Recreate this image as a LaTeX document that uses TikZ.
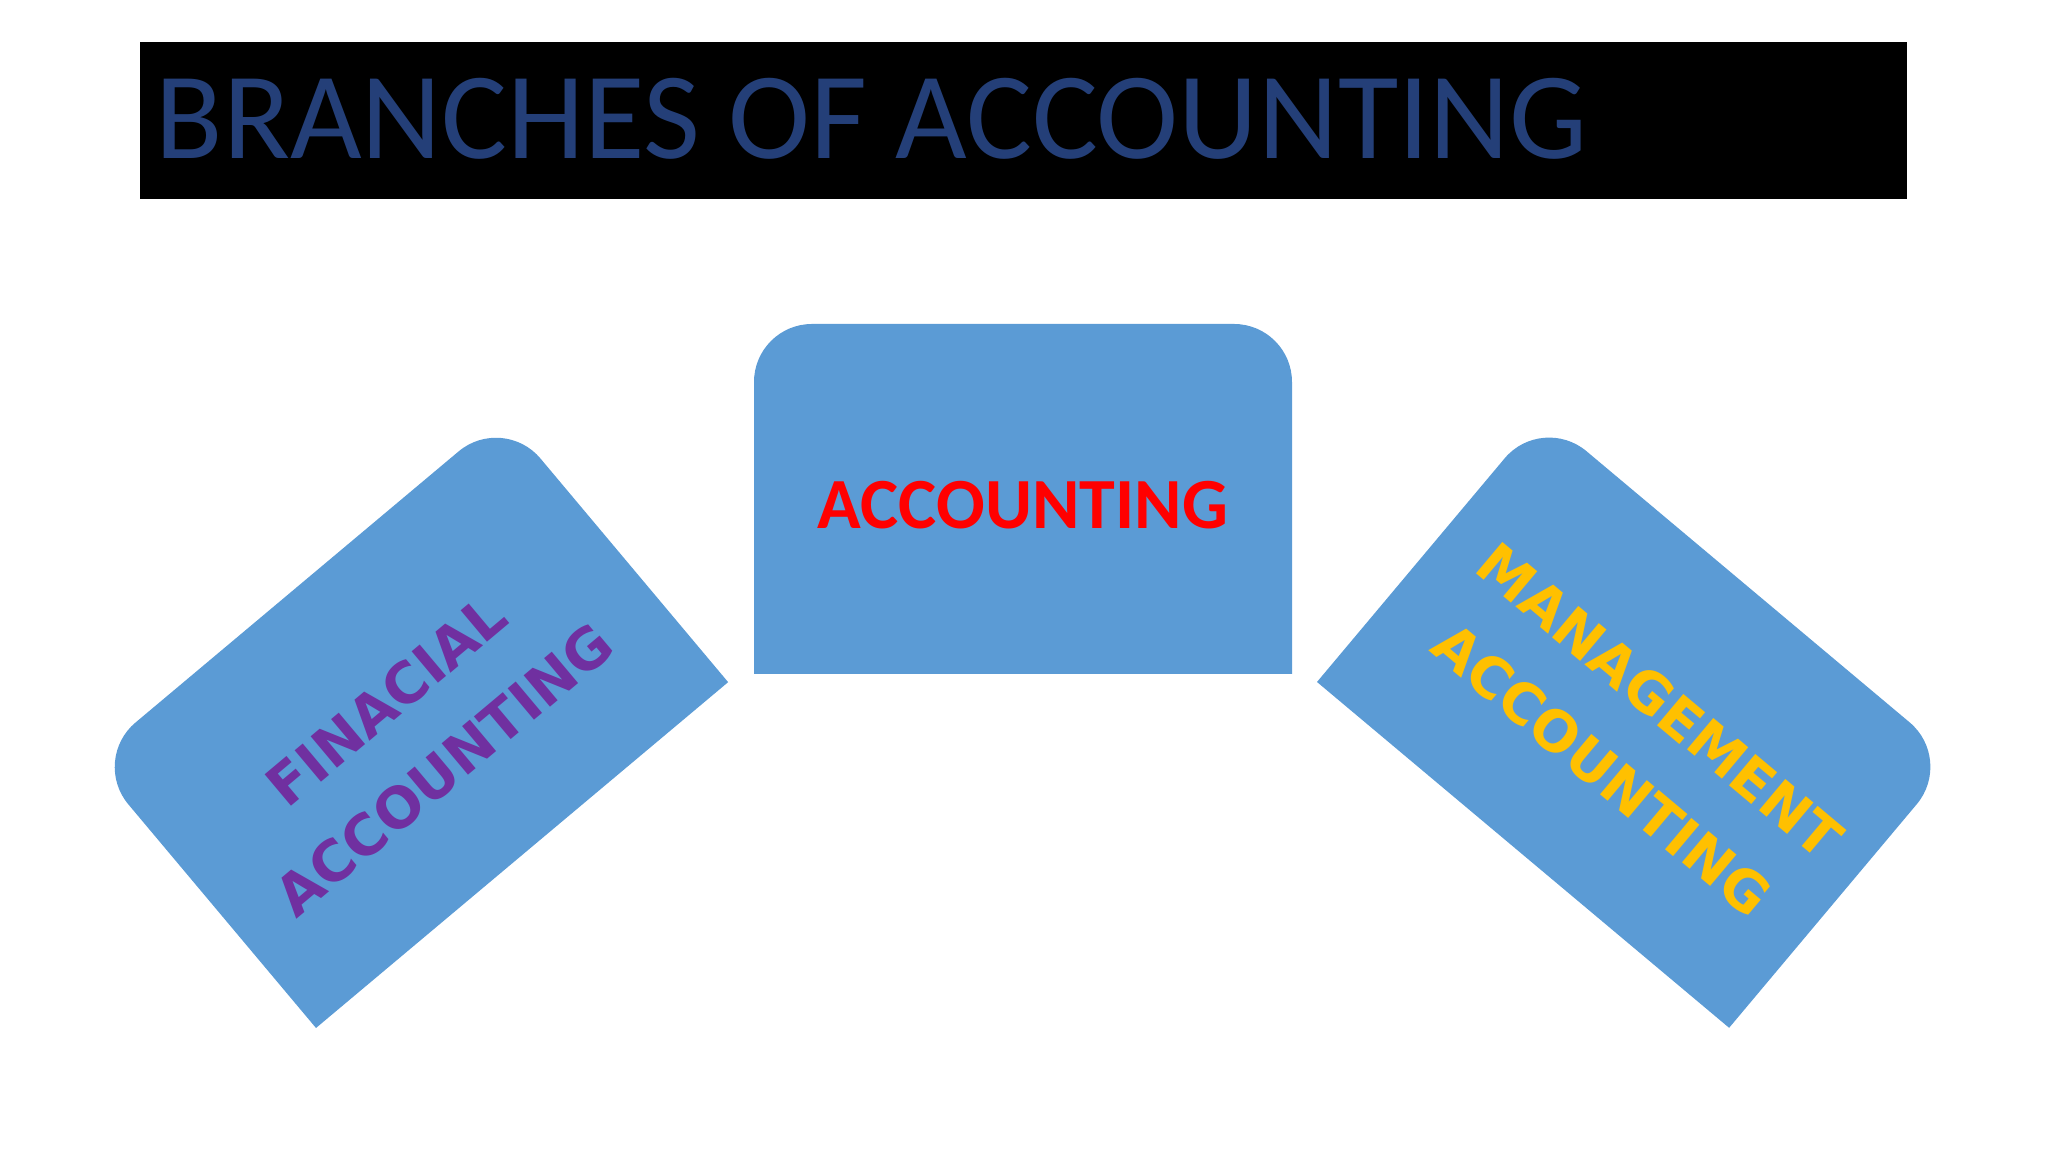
\documentclass[tikz,border=0pt]{standalone}
\usepackage{fontspec}
\setmainfont{Carlito}
\newfontfamily\tiltfont{DejaVu Sans}
\usepackage{tikz}
\usetikzlibrary{positioning}

\definecolor{boxblue}{HTML}{5B9BD5}
\definecolor{titleblue}{HTML}{243F78}
\definecolor{finpurple}{HTML}{7030A0}
\definecolor{mangold}{HTML}{FFC000}

\begin{document}
\begin{tikzpicture}[branch/.style={fill=boxblue, draw=none},
		branchtext/.style={font=\fontsize{20.5}{25.6}\selectfont\bfseries, inner sep=0pt},
		tilttext/.style={font=\fontsize{16}{25.6}\selectfont\tiltfont\bfseries, anchor=base}]
		\useasboundingbox (0,0) rectangle (20.48,11.52);
		
		% title bar
		\fill[black] (1.40,9.53) rectangle (19.07,11.10);
		\node[anchor=base west, inner sep=0pt, text=titleblue, font=\fontsize{35.2}{40}\selectfont] (title) at (1.55,9.93) {BRANCHES OF ACCOUNTING};
		
		% centre box
		\begin{scope}[shift={(7.54,4.78)}]
			\fill[branch] (0,0) -- (5.38,0) -- (5.38,2.92) arc[start angle=0, end angle=90, radius=0.58] -- (0.58,3.5) arc[start angle=90, end angle=180, radius=0.58] -- cycle;
		\end{scope}
		\node[branchtext, text=red] (acc) at (10.23,6.47) {ACCOUNTING};
		
		% left box
		\begin{scope}[shift={(3.16,1.24)}, rotate=40]
			\fill[branch] (0,0) -- (5.38,0) -- (5.38,2.92) arc[start angle=0, end angle=90, radius=0.58] -- (0.58,3.5) arc[start angle=90, end angle=180, radius=0.58] -- cycle;
		\end{scope}
		\begin{scope}[shift={(4.15,4.17)}, rotate=40]
			\node[tilttext, rotate=40, text=finpurple] (fin-top) at (0,0.245) {FINACIAL};
			\node[tilttext, rotate=40, text=finpurple] (fin-bot) at (0,-0.655) {ACCOUNTING};
		\end{scope}
		
		% right box
		\begin{scope}[shift={(13.17,4.70)}, rotate=-40]
			\fill[branch] (0,0) -- (5.38,0) -- (5.38,2.92) arc[start angle=0, end angle=90, radius=0.58] -- (0.58,3.5) arc[start angle=90, end angle=180, radius=0.58] -- cycle;
		\end{scope}
		\begin{scope}[shift={(16.31,4.17)}, rotate=-40]
			\node[tilttext, rotate=-40, text=mangold] (man-top) at (0,0.245) {MANAGEMENT};
			\node[tilttext, rotate=-40, text=mangold] (man-bot) at (0,-0.655) {ACCOUNTING};
		\end{scope}
	\end{tikzpicture}
\end{document}
